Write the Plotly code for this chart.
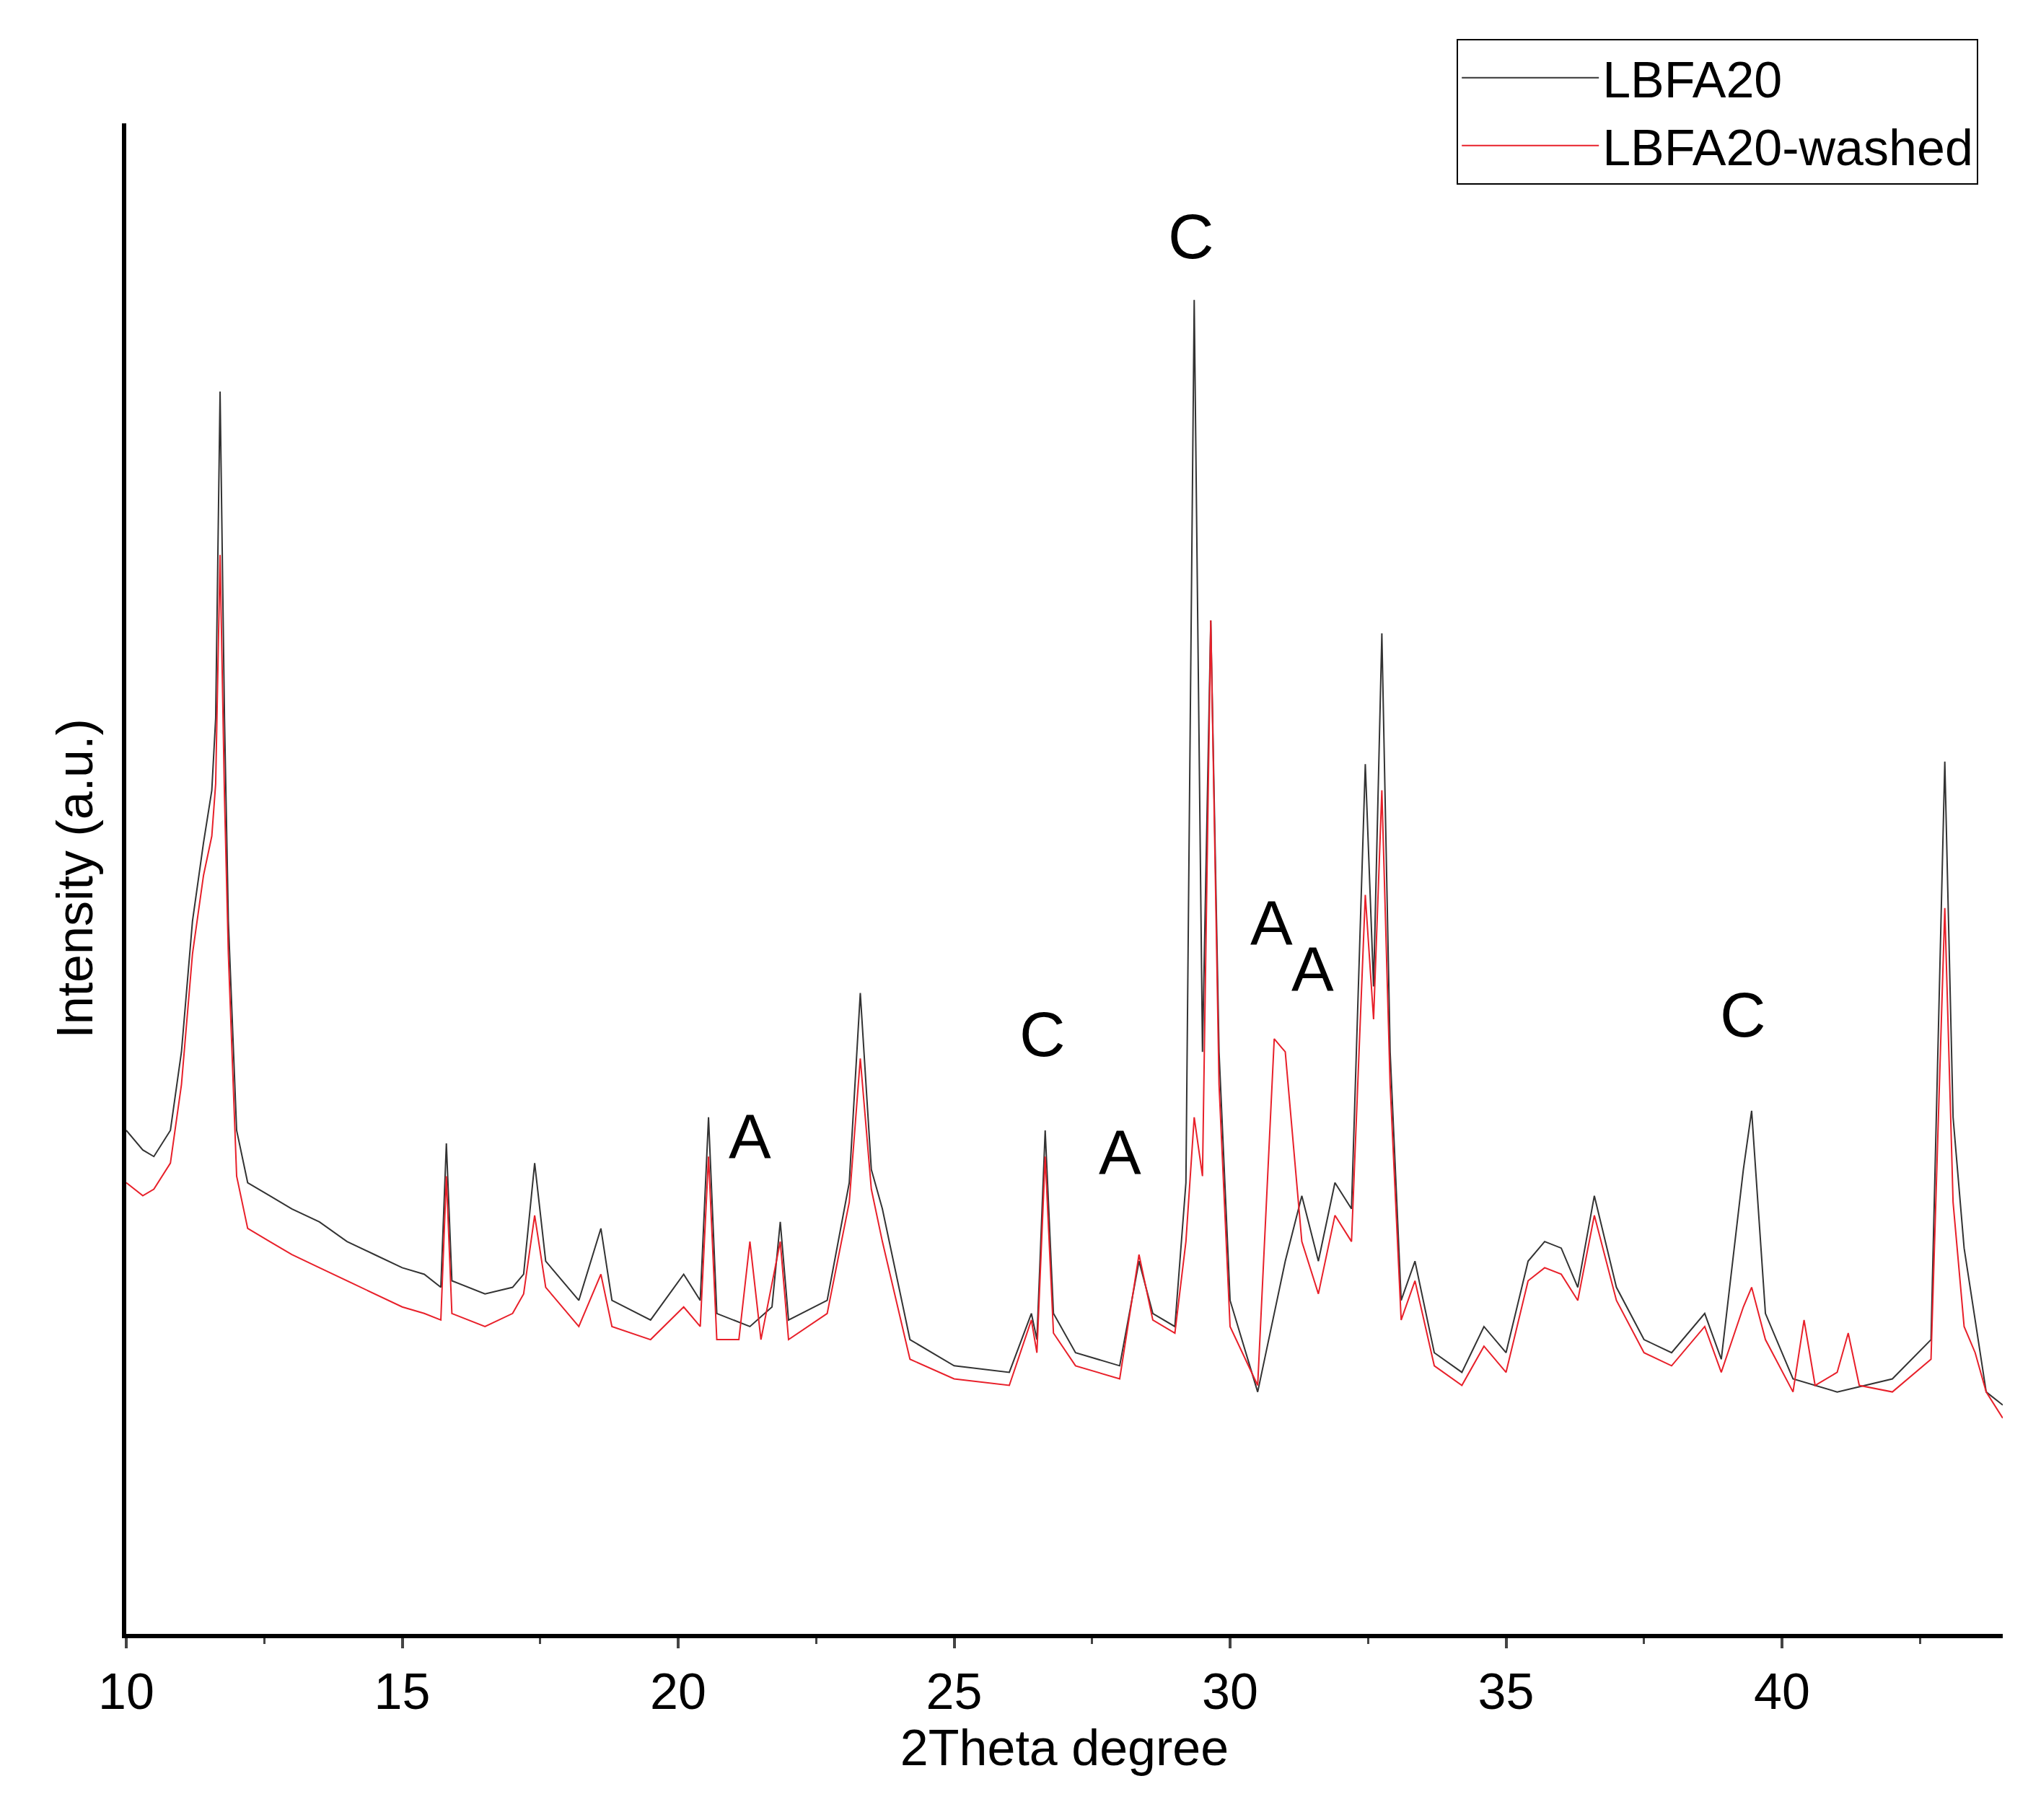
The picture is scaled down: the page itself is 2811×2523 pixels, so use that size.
import plotly.graph_objects as go

two_theta_a = [10,10.3,10.5,10.8,11.0,11.2,11.4,11.55,11.62,11.7,11.78,11.85,12.0,12.2,12.6,13,13.5,14,14.5,15,15.4,15.7,15.8,15.9,16.5,17.0,17.2,17.4,17.6,18.2,18.6,18.8,19.5,20.1,20.4,20.55,20.7,21.3,21.7,21.85,22.0,22.7,23.1,23.3,23.5,23.7,24.2,25,26,26.4,26.5,26.65,26.8,27.2,28,28.35,28.6,29.0,29.2,29.35,29.5,29.65,29.8,30.0,30.5,30.8,31.0,31.3,31.6,31.9,32.2,32.45,32.6,32.75,32.9,33.1,33.35,33.7,34.2,34.6,35.0,35.4,35.7,36.0,36.3,36.6,37.0,37.5,38,38.6,38.9,39.3,39.45,39.7,40.2,41,42,42.7,42.95,43.1,43.3,43.7,44]
lbfa20 = [385,370,365,385,445,545,605,645,700,950,700,545,385,345,335,325,315,300,290,280,275,265,375,270,260,265,275,360,285,255,310,255,240,275,255,395,245,235,250,315,240,255,345,490,355,325,225,205,200,245,225,385,245,215,205,285,245,235,345,1020,445,775,445,255,185,245,285,335,285,345,325,665,495,765,445,255,285,215,200,235,215,285,300,295,265,335,265,225,215,245,210,355,400,245,195,185,195,225,667,395,295,185,175]

two_theta_b = [10,10.3,10.5,10.8,11.0,11.2,11.4,11.55,11.62,11.7,11.78,11.85,12.0,12.2,12.6,13,13.5,14,14.5,15,15.4,15.7,15.8,15.9,16.5,17.0,17.2,17.4,17.6,18.2,18.6,18.8,19.5,20.1,20.4,20.55,20.7,21.1,21.3,21.5,21.85,22.0,22.7,23.1,23.3,23.5,23.7,24.2,25,26,26.4,26.5,26.65,26.8,27.2,28,28.35,28.6,29.0,29.2,29.35,29.5,29.65,29.8,30.0,30.5,30.8,31.0,31.3,31.6,31.9,32.2,32.45,32.6,32.75,32.9,33.1,33.35,33.7,34.2,34.6,35.0,35.4,35.7,36.0,36.3,36.6,37.0,37.5,38,38.6,38.9,39.3,39.45,39.7,40.2,40.4,40.6,41,41.2,41.4,42,42.7,42.95,43.1,43.3,43.5,43.7,44]
lbfa20_washed = [345,335,340,360,420,520,580,610,650,825,640,520,350,310,300,290,280,270,260,250,245,240,350,245,235,245,260,320,265,235,275,235,225,250,235,365,225,225,300,225,300,225,245,330,440,340,300,210,195,190,240,215,365,230,205,195,290,240,230,300,395,350,775,420,235,190,455,445,300,260,320,300,565,470,645,420,240,270,205,190,220,200,270,280,275,255,320,255,215,205,235,200,250,265,225,185,240,190,200,230,190,185,210,555,330,235,215,185,165]

labels = ["C","A","C","A","A","A","C"]
label_x = [29.3,21.3,26.6,28.0,30.75,31.5,39.3]
label_y = [1040,352,430,340,515,480,445]

fig = go.Figure()
fig.add_trace(go.Scatter(x=two_theta_a, y=lbfa20, mode="lines", name="LBFA20",
                         line=dict(color="#333333", width=2)))
fig.add_trace(go.Scatter(x=two_theta_b, y=lbfa20_washed, mode="lines", name="LBFA20-washed",
                         line=dict(color="#e8202a", width=2)))
for t, x, y in zip(labels, label_x, label_y):
    fig.add_annotation(x=x, y=y, text=t, showarrow=False, font=dict(size=88, color="black"),
                       yanchor="bottom")

fig.update_layout(
    width=2811, height=2523, paper_bgcolor="white", plot_bgcolor="white",
    margin=dict(l=167, r=43, t=163, b=266),
    font=dict(family="Arial, Liberation Sans, sans-serif", color="black"),
    showlegend=True,
    legend=dict(x=0.987, y=1.056, xanchor="right", yanchor="top", bordercolor="black",
                borderwidth=2, font=dict(size=70), bgcolor="white", itemwidth=190),
    xaxis=dict(range=[10,44], tickvals=[10,15,20,25,30,35,40], ticks="outside", ticklen=14,
               tickwidth=4, showline=True, linewidth=6, linecolor="black", showgrid=False,
               zeroline=False, tickfont=dict(size=70),
               minor=dict(tickvals=[12.5,17.5,22.5,27.5,32.5,37.5,42.5], ticks="outside", ticklen=8, tickwidth=3),
               title=dict(text="2Theta degree", font=dict(size=70), standoff=10)),
    yaxis=dict(range=[0,1155], showticklabels=False, ticks="", showline=True, linewidth=6,
               linecolor="black", showgrid=False, zeroline=False,
               title=dict(text="Intensity (a.u.)", font=dict(size=70), standoff=20)),
)
fig.write_html("out.html")
